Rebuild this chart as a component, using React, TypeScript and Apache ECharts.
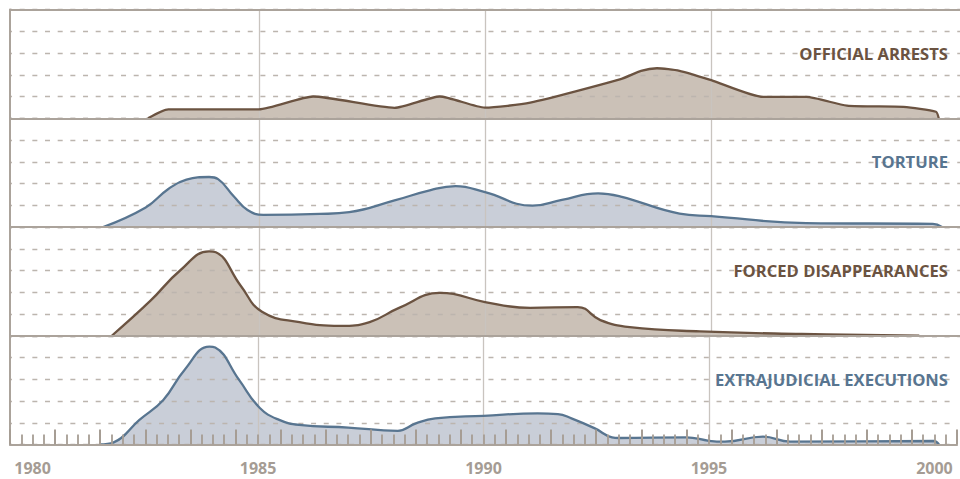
import React, { useEffect, useRef } from 'react';
import * as echarts from 'echarts';

// ---- data (year, value on a 0–5 band scale) ----
const bandNames = ['OFFICIAL ARRESTS', 'TORTURE', 'FORCED DISAPPEARANCES', 'EXTRAJUDICIAL EXECUTIONS'];

const arrests: number[][] = [
  [1982.55, 0], [1983.0, 0.41], [1985.0, 0.41], [1986.2, 1.0], [1988.0, 0.48], [1989.0, 1.0],
  [1990.0, 0.49], [1991.0, 0.72], [1993.0, 1.8], [1993.45, 2.18], [1993.8, 2.3], [1994.3, 2.18],
  [1995.0, 1.75], [1996.15, 0.98], [1997.1, 0.98], [1998.0, 0.58], [1999.25, 0.52], [1999.97, 0.3], [2000.03, 0],
];

const torture: number[][] = [
  [1981.56, 0], [1982.5, 0.9], [1983.0, 1.75], [1983.4, 2.18], [1983.9, 2.3], [1984.1, 2.2],
  [1984.45, 1.4], [1984.75, 0.78], [1985.1, 0.56], [1986.35, 0.6], [1987.0, 0.68], [1988.0, 1.22],
  [1988.8, 1.7], [1989.35, 1.88], [1990.0, 1.6], [1991.05, 0.98], [1991.7, 1.25], [1992.5, 1.55],
  [1993.0, 1.4], [1994.3, 0.62], [1995.0, 0.5], [1997.1, 0.18], [1999.9, 0.14], [2000.1, 0],
];

const disappearances: number[][] = [
  [1981.75, 0], [1982.6, 1.6], [1983.26, 3.0], [1983.9, 3.88], [1984.05, 3.84], [1984.6, 2.3],
  [1985.07, 1.1], [1985.9, 0.63], [1986.8, 0.45], [1987.45, 0.63], [1988.1, 1.28], [1989.0, 1.97],
  [1989.3, 1.92], [1990.0, 1.55], [1991.0, 1.28], [1992.05, 1.32], [1992.55, 0.72], [1993.2, 0.4],
  [1994.75, 0.2], [1997.0, 0.08], [1999.6, 0],
];

const executions: number[][] = [
  [1981.49, 0], [1981.8, 0.1], [1982.37, 1.13], [1982.9, 2.05], [1983.37, 3.43], [1983.92, 4.5],
  [1984.05, 4.46], [1984.58, 2.97], [1985.04, 1.68], [1985.47, 1.13], [1985.91, 0.9], [1987.0, 0.78],
  [1988.1, 0.63], [1988.5, 0.97], [1988.93, 1.2], [1990.0, 1.32], [1991.2, 1.43], [1991.65, 1.4],
  [1991.95, 1.2], [1992.47, 0.74], [1992.85, 0.33], [1993.0, 0.3], [1994.5, 0.33], [1995.0, 0.17],
  [1995.35, 0.13], [1996.2, 0.36], [1996.8, 0.13], [1999.98, 0.16], [2000.1, 0],
];

const bandData = [arrests, torture, disappearances, executions];
const gridYears = [1985, 1990, 1995];
const labelYears = [1980, 1985, 1990, 1995, 2000];

const BROWN = '#6b5341';
const BLUE = '#587590';
const strokeColors = [BROWN, BLUE, BROWN, BLUE];
const fillColors = ['#cbc1b7', '#c9ced8', '#cbc1b7', '#c9ced8'];
const AXIS = '#aba39b';
const TICK = '#a69d94';
const LABEL = '#a59c94';
const DASH = '#bcb5ae';
const VLINE = '#c9c4bf';

const X_MIN = 1979.5;
const X_MAX = 2000.5;

export default function App() {
  const ref = useRef<HTMLDivElement>(null);

  useEffect(() => {
    const chart = echarts.init(ref.current!, null, { renderer: 'svg' });
    const left = 10;
    const top0 = 9.5;
    const bandH = 108.75;

    const grids = bandData.map((_, i) => ({ left, right: 0, top: top0 + i * bandH, height: bandH }));

    const xAxes: any[] = bandData.map((_, i) => ({
      type: 'value',
      gridIndex: i,
      position: 'bottom',
      min: X_MIN,
      max: X_MAX,
      interval: 1,
      z: 4,
      axisLine: { show: true, onZero: false, lineStyle: { color: AXIS, width: 2.2 } },
      axisTick: { show: i === 3, inside: true, length: 15, lineStyle: { color: TICK, width: 2 } },
      minorTick: { show: i === 3, splitNumber: 4, length: 10, lineStyle: { color: TICK, width: 1.8 } },
      axisLabel: { show: false },
      splitLine: { show: false },
      minorSplitLine: { show: false },
    }));
    xAxes.push({
      type: 'value',
      gridIndex: 0,
      position: 'top',
      min: X_MIN,
      max: X_MAX,
      z: 4,
      axisLine: { show: true, onZero: false, lineStyle: { color: AXIS, width: 2.2 } },
      axisTick: { show: false },
      axisLabel: { show: false },
      splitLine: { show: false },
    });
    xAxes.push({
      type: 'value',
      gridIndex: 3,
      position: 'bottom',
      min: X_MIN,
      max: X_MAX,
      interval: 0.5,
      axisLine: { show: false },
      axisTick: { show: false },
      splitLine: { show: false },
      axisLabel: {
        show: true,
        margin: 15,
        color: LABEL,
        fontFamily: '"Open Sans"',
        fontWeight: 'bold',
        fontSize: 16,
        formatter: (v: number) => {
          const r = Math.round(v);
          return Math.abs(v - r) < 1e-6 && labelYears.includes(r) ? String(r) : '';
        },
      },
    });

    const yAxes = bandData.map((_, i) => ({
      type: 'value',
      gridIndex: i,
      min: 0,
      max: 5,
      interval: 1,
      z: 2,
      axisLine: { show: true, onZero: false, lineStyle: { color: AXIS, width: 2 } },
      axisTick: { show: false },
      axisLabel: { show: false },
      splitLine: { show: true, lineStyle: { color: DASH, width: 1.3, type: [5, 7.67], dashOffset: 2.67 } },
    }));

    const series: any[] = [];
    bandData.forEach((data, i) => {
      const smooth = i === 0 ? 0.2 : 0.45;
      series.push({
        type: 'line',
        xAxisIndex: i,
        yAxisIndex: i,
        data,
        smooth,
        symbol: 'none',
        silent: true,
        lineStyle: { width: 0 },
        areaStyle: { color: fillColors[i], opacity: 1 },
        z: 1,
      });
      series.push({
        type: 'line',
        xAxisIndex: i,
        yAxisIndex: i,
        data: [],
        symbol: 'none',
        silent: true,
        z: 2,
        markLine: {
          silent: true,
          z: 2,
          symbol: ['none', 'none'],
          label: { show: false },
          lineStyle: { color: VLINE, width: 1.3, type: 'solid' },
          data: gridYears.map((y) => ({ xAxis: y })),
        },
      });
      series.push({
        type: 'line',
        xAxisIndex: i,
        yAxisIndex: i,
        data,
        smooth,
        symbol: 'none',
        silent: true,
        lineStyle: { color: strokeColors[i], width: 2.3 },
        z: 3,
      });
    });

    const graphics = bandNames.map((name, i) => ({
      type: 'text',
      x: 948,
      y: top0 + i * bandH + 43.5,
      z: 10,
      style: {
        text: name,
        align: 'right',
        verticalAlign: 'middle',
        fill: strokeColors[i],
        font: 'bold 16.6px "Open Sans"',
      },
    }));

    chart.setOption({
      animation: false,
      grid: grids,
      xAxis: xAxes,
      yAxis: yAxes,
      series,
      graphic: graphics,
    });

    return () => chart.dispose();
  }, []);

  return (
    <div
      ref={ref}
      style={{ position: 'fixed', left: 0, top: 0, width: 960, height: 479, background: '#fff' }}
    />
  );
}
